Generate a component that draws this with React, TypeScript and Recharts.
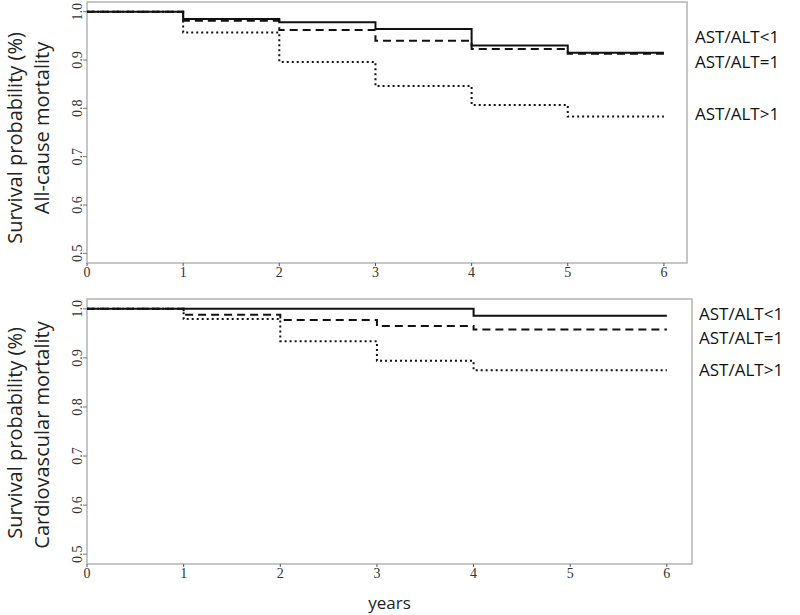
import { LineChart, Line, XAxis, YAxis, ReferenceArea } from 'recharts';

const YEARS = [0, 1, 2, 3, 4, 5, 6];
const X_TICKS = [0, 1, 2, 3, 4, 5, 6];
const Y_TICKS = [0.5, 0.6, 0.7, 0.8, 0.9, 1.0];
const GROUPS = ['AST/ALT<1', 'AST/ALT=1', 'AST/ALT>1'];

// all-cause mortality
const ALL_LT1 = [1.0, 0.985, 0.978, 0.964, 0.93, 0.915, 0.915];
const ALL_EQ1 = [1.0, 0.981, 0.962, 0.94, 0.923, 0.913, 0.913];
const ALL_GT1 = [1.0, 0.957, 0.896, 0.846, 0.807, 0.783, 0.783];

// cardiovascular mortality
const CV_LT1 = [1.0, 1.0, 1.0, 1.0, 0.986, 0.986, 0.986];
const CV_EQ1 = [1.0, 0.988, 0.977, 0.965, 0.958, 0.958, 0.958];
const CV_GT1 = [1.0, 0.979, 0.934, 0.894, 0.875, 0.875, 0.875];

const SANS = '"Open Sans", sans-serif';
const SERIF = '"Liberation Serif", serif';
const BOX = '#b4b4b4';

const toRows = (a: number[], b: number[], c: number[]) =>
  YEARS.map((t, i) => ({ t, lt1: a[i], eq1: b[i], gt1: c[i] }));

const YTick = ({ x, y, payload }: any) => (
  <text
    x={x}
    y={y}
    transform={`rotate(-90 ${x} ${y})`}
    textAnchor="middle"
    fontFamily={SERIF}
    fontSize={14}
    fill="#333"
  >
    {payload.value.toFixed(1)}
  </text>
);

function KMPanel({
  rows,
  height,
  top,
  bottom,
  right,
  xMax,
  showYears,
}: {
  rows: any[];
  height: number;
  top: number;
  bottom: number;
  right: number;
  xMax: number;
  showYears?: boolean;
}) {
  return (
    <LineChart
      width={800}
      height={height}
      data={rows}
      margin={{ top, right, bottom: 0, left: 0 }}
    >
      <XAxis
        dataKey="t"
        type="number"
        domain={[0, xMax]}
        ticks={X_TICKS}
        height={bottom}
        axisLine={false}
        tickSize={3}
        tickMargin={1}
        tickLine={{ stroke: '#555' }}
        tick={{ fontFamily: SERIF, fontSize: 14, fill: '#333' }}
        label={
          showYears
            ? {
                value: 'years',
                position: 'insideBottom',
                offset: 6,
                style: { fontFamily: SANS, fontSize: 17, fill: '#222' },
              }
            : undefined
        }
      />
      <YAxis
        type="number"
        domain={[0.48, 1.02]}
        ticks={Y_TICKS}
        width={87}
        axisLine={false}
        tickSize={4}
        tickMargin={1}
        tickLine={{ stroke: '#777' }}
        tick={<YTick />}
      />
      <ReferenceArea
        x1={0}
        x2={xMax}
        y1={0.48}
        y2={1.02}
        fill="none"
        stroke={BOX}
        strokeWidth={1.5}
      />
      <Line
        type="stepAfter"
        dataKey="gt1"
        name={GROUPS[2]}
        stroke="#111"
        strokeWidth={2}
        strokeDasharray="2 3"
        dot={false}
        isAnimationActive={false}
      />
      <Line
        type="stepAfter"
        dataKey="eq1"
        name={GROUPS[1]}
        stroke="#111"
        strokeWidth={2}
        strokeDasharray="8 5"
        dot={false}
        isAnimationActive={false}
      />
      <Line
        type="stepAfter"
        dataKey="lt1"
        name={GROUPS[0]}
        stroke="#111"
        strokeWidth={2}
        dot={false}
        isAnimationActive={false}
      />
    </LineChart>
  );
}

const titleStyle = { fontFamily: SANS, fontSize: 20, fill: '#222' };
const groupStyle = { fontFamily: SANS, fontSize: 17, fill: '#111' };

export default function App() {
  return (
    <div
      style={{
        position: 'absolute',
        left: 0,
        top: 0,
        width: 800,
        height: 615,
        background: '#fff',
      }}
    >
      <div style={{ position: 'absolute', left: 0, top: 0 }}>
        <KMPanel
          rows={toRows(ALL_LT1, ALL_EQ1, ALL_GT1)}
          height={290}
          top={2}
          bottom={27}
          right={113}
          xMax={6.24}
        />
      </div>
      <div style={{ position: 'absolute', left: 0, top: 290 }}>
        <KMPanel
          rows={toRows(CV_LT1, CV_EQ1, CV_GT1)}
          height={325}
          top={9}
          bottom={51}
          right={108}
          xMax={6.26}
          showYears
        />
      </div>
      <svg
        width={800}
        height={615}
        style={{ position: 'absolute', left: 0, top: 0, pointerEvents: 'none' }}
      >
        <text x={14} y={138} transform="rotate(-90 14 138)" textAnchor="middle" dominantBaseline="central" style={titleStyle}>
          Survival probability (%)
        </text>
        <text x={41} y={128} transform="rotate(-90 41 128)" textAnchor="middle" dominantBaseline="central" style={titleStyle}>
          All-cause mortality
        </text>
        <text x={14} y={433} transform="rotate(-90 14 433)" textAnchor="middle" dominantBaseline="central" style={titleStyle}>
          Survival probability (%)
        </text>
        <text x={41} y={435} transform="rotate(-90 41 435)" textAnchor="middle" dominantBaseline="central" style={titleStyle}>
          Cardiovascular mortality
        </text>
        <text x={695} y={36} dominantBaseline="central" style={groupStyle}>{GROUPS[0]}</text>
        <text x={695} y={61} dominantBaseline="central" style={groupStyle}>{GROUPS[1]}</text>
        <text x={695} y={113} dominantBaseline="central" style={groupStyle}>{GROUPS[2]}</text>
        <text x={699} y={313} dominantBaseline="central" style={groupStyle}>{GROUPS[0]}</text>
        <text x={699} y={337} dominantBaseline="central" style={groupStyle}>{GROUPS[1]}</text>
        <text x={699} y={369} dominantBaseline="central" style={groupStyle}>{GROUPS[2]}</text>
      </svg>
    </div>
  );
}
